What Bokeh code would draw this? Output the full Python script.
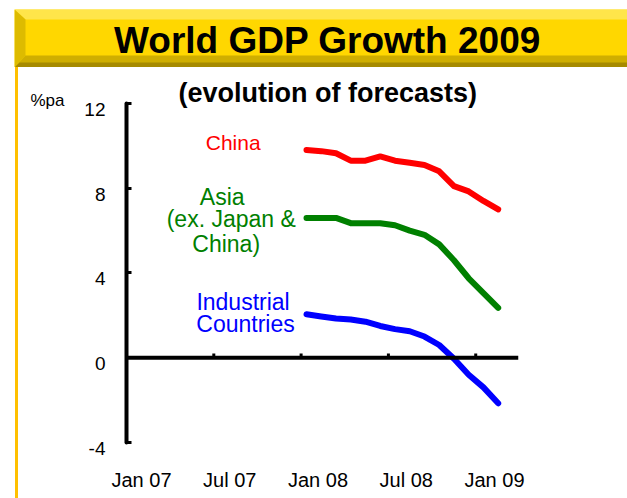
from bokeh.plotting import figure
from bokeh.models import Range1d, LinearAxis, FixedTicker, Span, Label, Div
from bokeh.layouts import column, row
from bokeh.embed import file_html
from bokeh.resources import INLINE

# ---- data -------------------------------------------------------------
# forecast month index (months since Jan 07): Jan 08 .. Feb 09
forecast_month = [12, 13, 14, 15, 16, 17, 18, 19, 20, 21, 22, 23, 24, 25]
china = [9.8, 9.75, 9.65, 9.3, 9.3, 9.5, 9.3, 9.2, 9.1, 8.8, 8.1, 7.85, 7.4, 7.0]
asia = [6.6, 6.6, 6.6, 6.35, 6.35, 6.35, 6.25, 6.0, 5.8, 5.35, 4.6, 3.75, 3.05, 2.35]
industrial = [2.05, 1.95, 1.85, 1.8, 1.7, 1.5, 1.35, 1.25, 1.0, 0.6, -0.05, -0.8, -1.4, -2.15]

x_ticks = [0, 6, 12, 18, 24]
x_tick_labels = ["Jan 07", "Jul 07", "Jan 08", "Jul 08", "Jan 09"]
y_ticks = [-4, 0, 4, 8, 12]
y_tick_labels = ["-4", "0", "4", "8", "12"]
unit_label = "%pa"

FONT = "Liberation Sans"

# ---- banner -----------------------------------------------------------
banner = figure(width=627, height=67, x_range=Range1d(0, 613), y_range=Range1d(0, 58),
                min_border_left=14, min_border_right=0, min_border_top=9, min_border_bottom=0,
                x_axis_location=None, y_axis_location=None, toolbar_location=None,
                output_backend="svg", background_fill_color="#FFD700",
                border_fill_color="white", outline_line_color=None, margin=0)
banner.grid.grid_line_color = None
banner.patches(xs=[[0, 613, 613, 11], [0, 11, 11, 0], [0, 613, 613, 11], [0, 613, 613, 5]],
               ys=[[58, 58, 48, 48], [58, 48, 12, 0], [0, 0, 12, 12], [0, 0, 5, 5]],
               fill_color=["#FFE54A", "#DDBB00", "#CFAE00", "#A68A00"], line_color=None)
banner.add_layout(Label(x=313, y=27, text="World GDP Growth 2009", text_font=FONT,
                        text_font_style="bold", text_font_size="37px", text_color="black",
                        text_align="center", text_baseline="middle"))

# ---- orange rule on the left --------------------------------------------
strip = Div(text="", width=18, height=431, margin=0,
            styles={"background": "linear-gradient(90deg, #ffffff 0px, #ffffff 15px, "
                                  "#FFC000 15px, #FFC000 18px)",
                    "padding": "0px", "margin": "0px"})

# ---- chart -------------------------------------------------------------
p = figure(width=609, height=431, x_range=Range1d(0, 26.94), y_range=Range1d(-4.85, 13.697),
           min_border_left=108, min_border_right=109, min_border_top=0, min_border_bottom=38,
           x_axis_location=None, y_axis_location=None, toolbar_location=None,
           output_backend="svg", outline_line_color=None, margin=0,
           background_fill_color="white", border_fill_color="white")
p.grid.grid_line_color = None
p.extra_x_ranges = {"fc": Range1d(-0.207, 26.377), "lab": Range1d(-1.02, 25.63)}
p.extra_y_ranges = {"ylab": Range1d(-4.85 + 0.283, 13.697 + 0.283)}

# axis line + tick marks
yaxis = LinearAxis(ticker=FixedTicker(ticks=y_ticks), bounds=(min(y_ticks), max(y_ticks)),
                   axis_line_width=4, axis_line_cap="round", axis_line_color="black",
                   major_tick_in=5, major_tick_out=0, major_tick_line_width=3,
                   major_tick_line_color="black", minor_tick_line_color=None,
                   major_label_overrides={t: s for t, s in zip(y_ticks, y_tick_labels)},
                   major_label_text_font=FONT, major_label_text_font_size="19px",
                   major_label_text_color=None, major_label_standoff=0)
p.add_layout(yaxis, "left")
# visible tick labels, sitting slightly below their ticks as in the original
ylab = LinearAxis(y_range_name="ylab", ticker=FixedTicker(ticks=y_ticks), axis_line_color=None,
                  major_tick_line_color=None, minor_tick_line_color=None,
                  major_tick_in=0, major_tick_out=0,
                  major_label_overrides={t: s for t, s in zip(y_ticks, y_tick_labels)},
                  major_label_text_font=FONT, major_label_text_font_size="19px",
                  major_label_text_color="black", major_label_standoff=21)
p.add_layout(ylab, "left")
# unit label
unit_pos = 12.156
uaxis = LinearAxis(ticker=FixedTicker(ticks=[unit_pos]), axis_line_color=None,
                   major_tick_line_color=None, minor_tick_line_color=None,
                   major_tick_in=0, major_tick_out=0,
                   major_label_overrides={unit_pos: unit_label},
                   major_label_text_font=FONT, major_label_text_font_size="17px",
                   major_label_text_color="black", major_label_standoff=17)
p.add_layout(uaxis, "left")

xlab = LinearAxis(x_range_name="lab", ticker=FixedTicker(ticks=x_ticks), axis_line_color=None,
                  major_tick_line_color=None, minor_tick_line_color=None,
                  major_tick_in=0, major_tick_out=0,
                  major_label_overrides={t: s for t, s in zip(x_ticks, x_tick_labels)},
                  major_label_text_font=FONT, major_label_text_font_size="20px",
                  major_label_text_color="black", major_label_standoff=8)
p.add_layout(xlab, "below")

p.add_layout(Span(location=0, dimension="width", line_color="black", line_width=4))
p.segment(x0=x_ticks[1:], x1=x_ticks[1:], y0=0, y1=0.2, line_color="black", line_width=3)

for vals, col in ((china, "#FF0000"), (asia, "#008000"), (industrial, "#0000FF")):
    p.line(x=forecast_month, y=vals, x_range_name="fc", line_color=col, line_width=6,
           line_cap="round", line_join="round")

labels = [
    ("China", 7.33, 10.16, "#FF0000", "21px"),
    ("Asia", 6.58, 7.58, "#008000", "23px"),
    ("(ex. Japan &", 7.20, 6.54, "#008000", "23px"),
    ("China)", 6.85, 5.38, "#008000", "23px"),
    ("Industrial", 8.01, 2.64, "#0000FF", "23px"),
    ("Countries", 8.18, 1.60, "#0000FF", "23px"),
]
for txt, x, y, col, size in labels:
    p.add_layout(Label(x=x, y=y, text=txt, text_color=col, text_font=FONT,
                       text_font_size=size, text_align="center", text_baseline="middle"))

p.add_layout(Label(x=13.83, y=12.47, text="(evolution of forecasts)", text_color="black",
                   text_font=FONT, text_font_style="bold",
                   text_font_size="27px", text_align="center", text_baseline="middle"))

layout = column(banner, row(strip, p, spacing=0), spacing=0)
open("out.html", "w").write(file_html(layout, INLINE))
